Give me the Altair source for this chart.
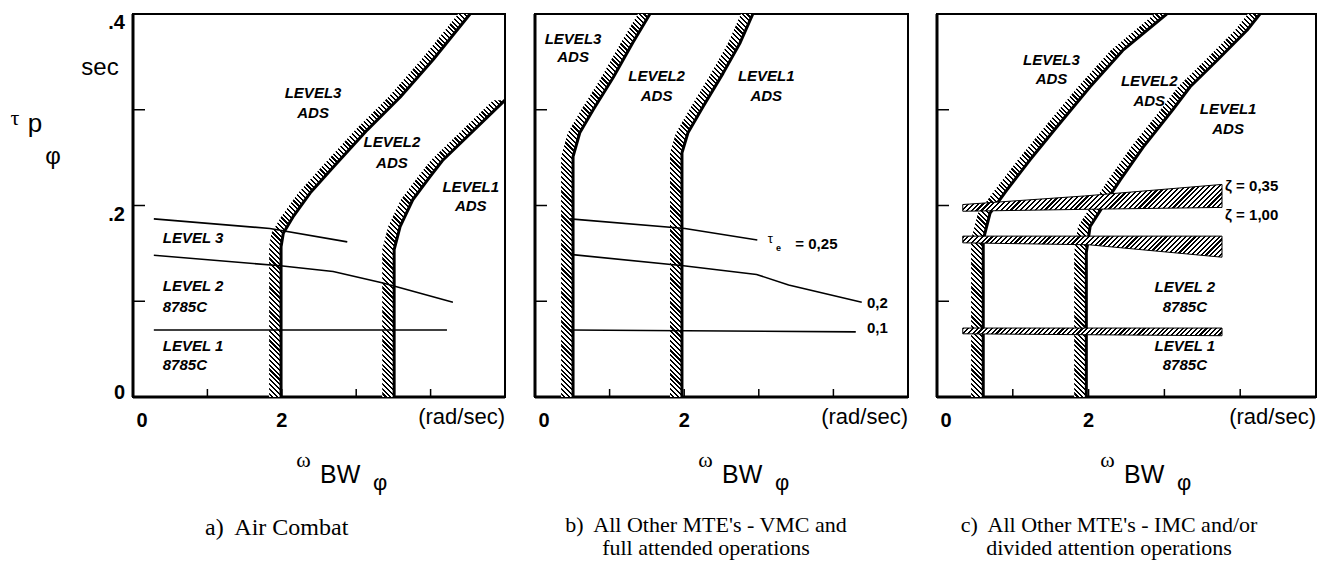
import math
import altair as alt
import pandas as pd

# ---------------- values ----------------
X_TICKS = [1, 2, 3, 4]
Y_TICKS = [0.1, 0.2, 0.3]

# a) Air Combat
A_L32_X = [1.99, 1.99, 2.02, 2.15, 2.38, 2.69, 3.15, 3.59, 4.03, 4.53]
A_L32_Y = [0.0, 0.157, 0.171, 0.188, 0.213, 0.240, 0.279, 0.313, 0.352, 0.400]
A_L21_X = [3.51, 3.51, 3.59, 3.76, 3.99, 4.16, 5.0]
A_L21_Y = [0.0, 0.154, 0.178, 0.206, 0.230, 0.247, 0.310]
A_T1_X = [0.28, 1.84, 2.88]
A_T1_Y = [0.186, 0.176, 0.162]
A_T2_X = [0.28, 1.98, 2.69, 3.36, 4.30]
A_T2_Y = [0.148, 0.137, 0.131, 0.119, 0.099]
A_T3_X = [0.28, 4.22]
A_T3_Y = [0.070, 0.070]

# b) VMC and full attended operations
B_L32_X = [0.51, 0.51, 0.60, 0.78, 1.05, 1.31, 1.54]
B_L32_Y = [0.0, 0.251, 0.276, 0.300, 0.334, 0.370, 0.400]
B_L21_X = [1.97, 1.97, 2.05, 2.25, 2.52, 2.75, 2.92]
B_L21_Y = [0.0, 0.255, 0.276, 0.303, 0.338, 0.370, 0.400]
B_T1_X = [0.47, 2.01, 2.98]
B_T1_Y = [0.186, 0.176, 0.164]
B_T2_X = [0.47, 1.99, 2.97, 3.40, 4.38]
B_T2_Y = [0.149, 0.137, 0.128, 0.117, 0.099]
B_T3_X = [0.47, 4.30]
B_T3_Y = [0.070, 0.068]

# c) IMC and/or divided attention operations
C_L32_X = [0.61, 0.61, 0.70, 0.92, 1.23, 1.58, 2.02, 2.45, 3.03]
C_L32_Y = [0.0, 0.164, 0.192, 0.216, 0.248, 0.282, 0.324, 0.362, 0.400]
C_L21_X = [1.97, 1.97, 2.02, 2.18, 2.42, 2.72, 3.11, 3.34, 3.70, 4.09, 4.26]
C_L21_Y = [0.0, 0.151, 0.178, 0.198, 0.227, 0.261, 0.300, 0.324, 0.352, 0.383, 0.400]
C_Z1_X = [0.34, 1.95, 3.76]
C_Z1_TOP = [0.201, 0.210, 0.222]
C_Z1_BOT = [0.194, 0.196, 0.198]
C_Z2_X = [0.34, 2.0, 3.76]
C_Z2_TOP = [0.168, 0.168, 0.168]
C_Z2_BOT = [0.161, 0.159, 0.146]
C_Z3_X = [0.34, 3.76]
C_Z3_TOP = [0.072, 0.072]
C_Z3_BOT = [0.066, 0.064]

# in-plot labels
A_LEFT_TXT = ["LEVEL 3", "LEVEL 2", "8785C", "LEVEL 1", "8785C"]
A_LEFT_X = [0.40, 0.40, 0.40, 0.40, 0.40]
A_LEFT_Y = [0.166, 0.116, 0.094, 0.053, 0.033]
A_ADS_TXT = ["LEVEL3", "ADS", "LEVEL2", "ADS", "LEVEL1", "ADS"]
A_ADS_X = [2.42, 2.42, 3.48, 3.48, 4.54, 4.54]
A_ADS_Y = [0.318, 0.297, 0.266, 0.244, 0.219, 0.199]

B_ADS_TXT = ["LEVEL3", "ADS", "LEVEL2", "ADS", "LEVEL1", "ADS"]
B_ADS_X = [0.51, 0.51, 1.63, 1.63, 3.10, 3.10]
B_ADS_Y = [0.374, 0.355, 0.335, 0.314, 0.335, 0.314]
B_TAU_TXT = ["= 0,25", "0,2", "0,1"]
B_TAU_X = [3.49, 4.45, 4.45]
B_TAU_Y = [0.160, 0.098, 0.072]

C_ADS_TXT = ["LEVEL3", "ADS", "LEVEL2", "ADS", "LEVEL1", "ADS"]
C_ADS_X = [1.51, 1.51, 2.80, 2.80, 3.84, 3.84]
C_ADS_Y = [0.352, 0.332, 0.330, 0.309, 0.301, 0.280]
C_RIGHT_TXT = ["LEVEL 2", "8785C", "LEVEL 1", "8785C"]
C_RIGHT_X = [3.27, 3.27, 3.27, 3.27]
C_RIGHT_Y = [0.115, 0.094, 0.053, 0.033]
C_ZETA_TXT = ["ζ = 0,35", "ζ = 1,00"]
C_ZETA_X = [3.80, 3.80]
C_ZETA_Y = [0.220, 0.190]

CAPTION_A = ["a)\u00a0 Air Combat"]
CAPTION_B = ["b)\u00a0 All Other MTE's - VMC and", "full attended operations"]
CAPTION_C = ["c)\u00a0 All Other MTE's - IMC and/or", "divided attention operations"]

# ---------------- layout / style ----------------
PANEL_RANGE = {"a": (0, 372), "b": (402, 775), "c": (804, 1183)}
PLOT_W, PLOT_H = 1183, 383
X_DOMAIN = [0, 5]
Y_DOMAIN = [0, 0.4]
BAND_W = 0.16
SANS = "Liberation Sans"
SERIF = "Liberation Serif"
PX_PER_Y = PLOT_H / (Y_DOMAIN[1] - Y_DOMAIN[0])

YS = alt.Scale(domain=Y_DOMAIN, nice=False, zero=False)


def xscale(p):
    lo, hi = PANEL_RANGE[p]
    return alt.Scale(domain=X_DOMAIN, range=[lo, hi], nice=False, zero=False)


def px_per_x(p):
    lo, hi = PANEL_RANGE[p]
    return (hi - lo) / (X_DOMAIN[1] - X_DOMAIN[0])


def X(p, f="x"):
    return alt.X(f"{f}:Q", scale=xscale(p), axis=None)


def Yc(f="y"):
    return alt.Y(f"{f}:Q", scale=YS, axis=None)


def hatch(w, h, direction, pitch=3.4, frac=0.45):
    """Striped linear gradient (bounding-box units) that looks like hatching."""
    s = (w + h) / (w * w + h * h)
    if direction == "\\":
        if h >= w:
            x1, y1, x2, y2 = 1, 0, 1 - s * w, s * h
        else:
            x1, y1, x2, y2 = 0, 1, s * w, 1 - s * h
    else:
        x1, y1, x2, y2 = 0, 0, s * w, s * h
    n = max(1, int(round((w + h) / (math.sqrt(2) * pitch))))
    stops = []
    for i in range(n):
        a = round(i / n, 6)
        b = round((i + frac) / n, 6)
        c = round((i + 1) / n, 6)
        stops += [
            alt.GradientStop(color="black", offset=a),
            alt.GradientStop(color="black", offset=b),
            alt.GradientStop(color="white", offset=b),
            alt.GradientStop(color="white", offset=c),
        ]
    return alt.LinearGradient(gradient="linear", stops=stops,
                              x1=round(x1, 6), y1=round(y1, 6), x2=round(x2, 6), y2=round(y2, 6))


layers = []


def frame(p):
    lo, hi = PANEL_RANGE[p]
    fr = pd.DataFrame({"x": [X_DOMAIN[0]], "x2": [X_DOMAIN[1]],
                       "y": [Y_DOMAIN[0]], "y2": [Y_DOMAIN[1]]})
    out = [
        alt.Chart(fr).mark_rect(filled=False, stroke="black", strokeWidth=2)
        .encode(x=X(p), x2="x2:Q", y=Yc(), y2="y2:Q"),
        alt.Chart(fr).mark_rule(color="black", strokeWidth=3)
        .encode(x=X(p), y=Yc(), y2="y2:Q"),
        alt.Chart(fr).mark_rule(color="black", strokeWidth=3)
        .encode(x=X(p), x2="x2:Q", y=Yc()),
        alt.Chart(pd.DataFrame({"x": X_TICKS})).mark_rule(color="black", strokeWidth=1.5)
        .encode(x=X(p), y=alt.value(PLOT_H), y2=alt.value(PLOT_H - 8)),
        alt.Chart(pd.DataFrame({"y": Y_TICKS})).mark_rule(color="black", strokeWidth=1.5)
        .encode(y=Yc(), x=alt.value(lo), x2=alt.value(lo + 12)),
        alt.Chart(pd.DataFrame({"x": [0], "t": ["0"]}))
        .mark_text(font=SANS, fontSize=20, fontWeight="bold", dx=9, baseline="alphabetic")
        .encode(x=X(p), y=alt.value(413), text="t:N"),
        alt.Chart(pd.DataFrame({"x": [2], "t": ["2"]}))
        .mark_text(font=SANS, fontSize=20, fontWeight="bold", baseline="alphabetic")
        .encode(x=X(p), y=alt.value(413), text="t:N"),
        alt.Chart(pd.DataFrame({"x": [5], "t": ["(rad/sec)"]}))
        .mark_text(font=SANS, fontSize=22, align="right", baseline="alphabetic")
        .encode(x=X(p), y=alt.value(410), text="t:N"),
    ]
    return out


def ads(p, xs_, ys_):
    df = pd.DataFrame({"x": xs_, "y": ys_})
    df["xl"] = df["x"] - BAND_W
    df["o"] = list(range(len(df)))
    w = (df["x"].max() - df["xl"].min()) * px_per_x(p)
    h = (df["y"].max() - df["y"].min()) * PX_PER_Y
    band = (alt.Chart(df).mark_area(orient="horizontal", fill=hatch(w, h, "\\"))
            .encode(y=Yc(), x=X(p, "xl"), x2="x:Q"))
    line = (alt.Chart(df).mark_line(color="black", strokeWidth=3, strokeJoin="round")
            .encode(x=X(p), y=Yc(), order="o:Q"))
    return [band, line]


def thin(p, xs_, ys_, w=1.6):
    df = pd.DataFrame({"x": xs_, "y": ys_, "o": list(range(len(xs_)))})
    return (alt.Chart(df).mark_line(color="black", strokeWidth=w)
            .encode(x=X(p), y=Yc(), order="o:Q"))


def wedge(p, xs_, top, bot):
    df = pd.DataFrame({"x": xs_, "top": top, "bot": bot})
    w = (max(xs_) - min(xs_)) * px_per_x(p)
    h = (max(top) - min(bot)) * PX_PER_Y
    return (alt.Chart(df).mark_area(fill=hatch(w, h, "/"), stroke="black", strokeWidth=1)
            .encode(x=X(p), y=Yc("top"), y2="bot:Q"))


def labels(p, texts, xs_, ys_, size=15, weight="bold", style="italic", align="center", dy=0):
    df = pd.DataFrame({"x": xs_, "y": ys_, "t": texts})
    return (alt.Chart(df).mark_text(font=SANS, fontSize=size, fontWeight=weight, fontStyle=style,
                                    align=align, baseline="middle", color="black", dy=dy)
            .encode(x=X(p), y=Yc(), text="t:N"))


def ptext(texts, xs_, ys_, size, font=SANS, weight="normal", align="center", baseline="alphabetic"):
    df = pd.DataFrame({"px": xs_, "py": ys_, "t": texts})
    return (alt.Chart(df).mark_text(font=font, fontSize=size, fontWeight=weight, align=align,
                                    baseline=baseline, color="black")
            .encode(x=alt.X("px:Q", scale=None, axis=None), y=alt.Y("py:Q", scale=None, axis=None),
                    text="t:N"))


# panels: frames
for p in "abc":
    layers += frame(p)

# panel a
layers += ads("a", A_L32_X, A_L32_Y)
layers += ads("a", A_L21_X, A_L21_Y)
layers += [thin("a", A_T1_X, A_T1_Y), thin("a", A_T2_X, A_T2_Y), thin("a", A_T3_X, A_T3_Y)]
layers.append(labels("a", A_LEFT_TXT, A_LEFT_X, A_LEFT_Y, align="left"))
layers.append(labels("a", A_ADS_TXT, A_ADS_X, A_ADS_Y))

# panel b
layers += ads("b", B_L32_X, B_L32_Y)
layers += ads("b", B_L21_X, B_L21_Y)
layers += [thin("b", B_T1_X, B_T1_Y), thin("b", B_T2_X, B_T2_Y), thin("b", B_T3_X, B_T3_Y)]
layers.append(labels("b", B_ADS_TXT, B_ADS_X, B_ADS_Y))
layers.append(labels("b", B_TAU_TXT, B_TAU_X, B_TAU_Y, size=15, style="normal", align="left"))
layers.append(labels("b", ["τ"], [3.12], [0.165], size=13, weight="normal", style="normal", align="left"))
layers.append(labels("b", ["e"], [3.23], [0.156], size=9, style="normal", align="left"))

# panel c
layers += ads("c", C_L32_X, C_L32_Y)
layers += ads("c", C_L21_X, C_L21_Y)
layers += [wedge("c", C_Z1_X, C_Z1_TOP, C_Z1_BOT),
           wedge("c", C_Z2_X, C_Z2_TOP, C_Z2_BOT),
           wedge("c", C_Z3_X, C_Z3_TOP, C_Z3_BOT)]
layers.append(labels("c", C_ADS_TXT, C_ADS_X, C_ADS_Y))
layers.append(labels("c", C_RIGHT_TXT, C_RIGHT_X, C_RIGHT_Y))
layers.append(labels("c", C_ZETA_TXT, C_ZETA_X, C_ZETA_Y, style="normal", align="left"))

# y tick labels (panel a only)
layers.append(labels("a", [".4", ".2"], [0, 0], [0.4, 0.2], size=20, style="normal", align="right", dy=9)
              .encode(x=alt.value(-8)))
layers.append(labels("a", ["0"], [0], [0.0], size=20, style="normal", align="right", dy=-4)
              .encode(x=alt.value(-8)))

# axis titles
layers.append(ptext(["sec"], [-33], [61], 24))
layers.append(ptext(["τ"], [-118], [111], 22, font=SERIF))
layers.append(ptext(["p"], [-98], [118], 26))
layers.append(ptext(["φ"], [-80], [150], 24))
for off in (0, 402, 804):
    layers.append(ptext(["ω"], [off + 170.5], [453], 22, font=SERIF))
    layers.append(ptext(["BW"], [off + 187], [469], 25, align="left"))
    layers.append(ptext(["φ"], [off + 247], [476], 22))

# captions
layers.append(ptext(CAPTION_A, [72], [521], 24, font=SERIF, align="left"))
layers.append(ptext(CAPTION_B, [573, 573], [518, 541], 22, font=SERIF))
layers.append(ptext(CAPTION_C, [976, 976], [518, 541], 22, font=SERIF))

chart = (
    alt.layer(*layers)
    .resolve_scale(x="independent")
    .properties(width=PLOT_W, height=PLOT_H,
                autosize=alt.AutoSizeParams(type="none"),
                padding={"left": 133, "top": 14, "right": 15, "bottom": 175})
    .configure_view(stroke=None)
)

chart.save("out.html", embed_options={"renderer": "svg", "actions": False})
